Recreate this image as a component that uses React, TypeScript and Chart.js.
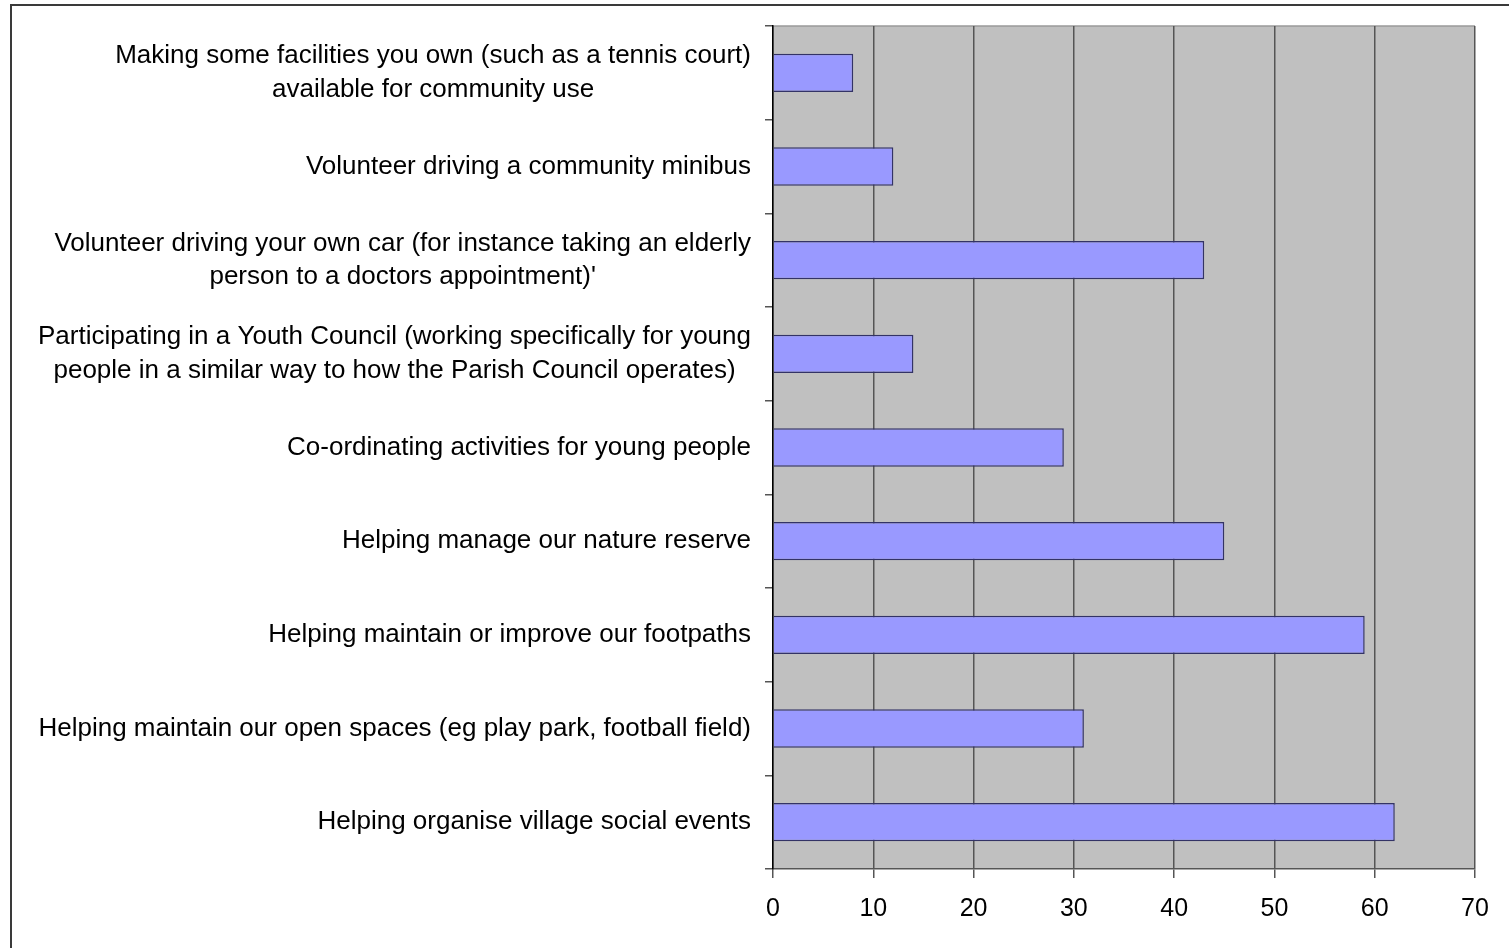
import React, { useEffect, useRef } from "react";
import { Chart, registerables } from "chart.js";

Chart.register(...registerables);

const categories: string[][] = [
  ["Making some facilities you own (such as a tennis court)", "available for community use"],
  ["Volunteer driving a community minibus"],
  ["Volunteer driving your own car (for instance taking an elderly", "person to a doctors appointment)'"],
  ["Participating in a Youth Council (working specifically for young", "people in a similar way to how the Parish Council operates)"],
  ["Co-ordinating activities for young people"],
  ["Helping manage our nature reserve"],
  ["Helping maintain or improve our footpaths"],
  ["Helping maintain our open spaces (eg play park, football field)"],
  ["Helping organise village social events"],
];

const values: number[] = [8, 12, 43, 14, 29, 45, 59, 31, 62];

const xMin = 0;
const xMax = 70;
const xStep = 10;

const FONT = "Arial, 'Liberation Sans', sans-serif";

const W = 1509;
const H = 948;

const framePlugin = {
  id: "frame",
  beforeDraw(chart: any) {
    const { ctx, chartArea } = chart;
    ctx.save();
    ctx.fillStyle = "#ffffff";
    ctx.fillRect(0, 0, W, H);
    ctx.strokeStyle = "#3a3a3a";
    ctx.lineWidth = 2;
    ctx.beginPath();
    ctx.moveTo(11, H + 2);
    ctx.lineTo(11, 5);
    ctx.lineTo(W + 2, 5);
    ctx.stroke();
    ctx.fillStyle = "#c0c0c0";
    ctx.fillRect(chartArea.left, chartArea.top, chartArea.right - chartArea.left, chartArea.bottom - chartArea.top);
    ctx.strokeStyle = "#9a9a9a";
    ctx.lineWidth = 1.5;
    ctx.beginPath();
    ctx.moveTo(chartArea.left, chartArea.top);
    ctx.lineTo(chartArea.right, chartArea.top);
    ctx.stroke();
    ctx.restore();
  },
  afterDraw(chart: any) {
    const { ctx } = chart;
    const yScale = chart.scales.y;
    ctx.save();
    ctx.font = `26px ${FONT}`;
    ctx.fillStyle = "#000000";
    ctx.textBaseline = "middle";
    ctx.textAlign = "center";
    const rightEdge = 751;
    const lh = 33.5;
    categories.forEach((lines, i) => {
      const cy = yScale.getPixelForValue(i);
      const widest = Math.max(...lines.map((l) => ctx.measureText(l).width));
      const cx = rightEdge - widest / 2;
      lines.forEach((line, j) => {
        const y = cy + (j - (lines.length - 1) / 2) * lh;
        ctx.fillText(line, cx, y);
      });
    });
    ctx.restore();
  },
};

export default function App() {
  const ref = useRef<HTMLCanvasElement | null>(null);
  useEffect(() => {
    if (!ref.current) return;
    const chart = new Chart(ref.current, {
      type: "bar",
      data: {
        labels: categories.map((c) => c.join(" ")),
        datasets: [
          {
            data: values,
            backgroundColor: "#9999ff",
            borderColor: "#333366",
            borderWidth: 1.5,
            categoryPercentage: 0.41,
            barPercentage: 1,
          },
        ],
      },
      options: {
        indexAxis: "y",
        responsive: false,
        animation: false,
        layout: { padding: { top: 26, right: 34, left: 0, bottom: 0 } },
        plugins: {
          legend: { display: false },
          tooltip: { enabled: false },
        },
        scales: {
          x: {
            min: xMin,
            max: xMax,
            ticks: {
              stepSize: xStep,
              color: "#000000",
              font: { family: FONT, size: 25 },
              padding: 16,
            },
            grid: {
              color: "#555555",
              lineWidth: 1.5,
              tickLength: 9,
              tickColor: "#555555",
            },
            border: { display: true, color: "#555555", width: 1.5 },
            afterFit: (scale: any) => {
              scale.height = H - 869;
            },
          },
          y: {
            ticks: { display: false },
            grid: {
              drawOnChartArea: false,
              drawTicks: true,
              tickLength: 8,
              color: "#555555",
              lineWidth: 1.5,
              offset: true,
            },
            border: { display: true, color: "#000000", width: 1.5 },
            afterFit: (scale: any) => {
              scale.width = 773;
            },
          },
        },
      },
      plugins: [framePlugin],
    });
    return () => chart.destroy();
  }, []);
  return (
    <div style={{ position: "absolute", left: 0, top: 0, width: W, height: H, background: "#fff" }}>
      <canvas ref={ref} width={W} height={H} style={{ display: "block", width: W, height: H }} />
    </div>
  );
}
